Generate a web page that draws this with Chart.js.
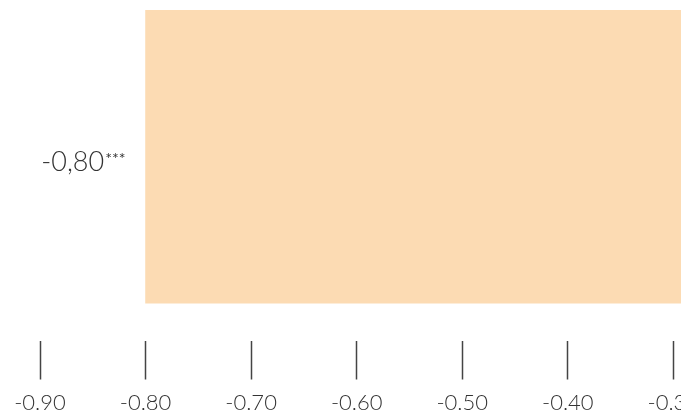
<!DOCTYPE html>
<html>
<head>
<meta charset="utf-8">
<script src="https://cdn.jsdelivr.net/npm/chart.js@4/dist/chart.umd.min.js"></script>
<style>
  html, body { margin: 0; padding: 0; background: #fff; overflow: hidden; }
  #wrap { width: 681px; height: 413px; overflow: hidden; position: relative; }
  #box { position: absolute; left: 0; top: 0; width: 1030px; height: 426px; }
</style>
</head>
<body>
<div id="wrap"><div id="box"><canvas id="chart"></canvas></div></div>
<script>
// ===== data =====
const categories = ['-0,80'];
const significance = ['***'];
const values = [-0.80];
const axisMin = -0.90;
const axisMax = 0;
const tickStep = 0.10;

const barColor = '#fcdbb3';
const textColor = '#333';
const fontFamily = 'Lato, "Open Sans", sans-serif';

// draws the category label with its significance stars to the left of each bar
const barLabelPlugin = {
  id: 'barLabel',
  afterDatasetsDraw(chart) {
    const ctx = chart.ctx;
    const meta = chart.getDatasetMeta(0);
    const xScale = chart.scales.x;
    meta.data.forEach((bar, i) => {
      const left = xScale.getPixelForValue(values[i]);
      const right = left - 20;
      ctx.save();
      ctx.fillStyle = textColor;
      ctx.textBaseline = 'alphabetic';
      ctx.textAlign = 'right';
      ctx.font = '400 16px ' + fontFamily;
      const starW = ctx.measureText(significance[i]).width + 1;
      ctx.fillText(significance[i], right, bar.y + 7);
      ctx.font = '300 27px ' + fontFamily;
      ctx.fillText(categories[i], right - starW, bar.y + 14);
      ctx.restore();
    });
  }
};

new Chart(document.getElementById('chart'), {
  type: 'bar',
  data: {
    labels: categories,
    datasets: [{
      data: values,
      backgroundColor: barColor,
      borderWidth: 0,
      barPercentage: 1,
      categoryPercentage: 1
    }]
  },
  options: {
    indexAxis: 'y',
    responsive: true,
    maintainAspectRatio: false,
    animation: false,
    layout: { padding: { top: 10, left: 40, right: 40, bottom: 0 } },
    plugins: { legend: { display: false }, tooltip: { enabled: false } },
    scales: {
      y: { display: false },
      x: {
        min: axisMin,
        max: axisMax,
        border: { display: false },
        grid: {
          drawOnChartArea: false,
          drawTicks: true,
          tickLength: 76,
          tickWidth: 1.5,
          tickColor: '#444',
          tickBorderDash: [0, 37, 39]
        },
        ticks: {
          stepSize: tickStep,
          color: textColor,
          padding: 10,
          maxRotation: 0,
          autoSkip: false,
          font: { family: fontFamily, size: 22, weight: '300' },
          callback: v => Number(v).toFixed(2)
        }
      }
    }
  },
  plugins: [barLabelPlugin]
});
</script>
</body>
</html>
